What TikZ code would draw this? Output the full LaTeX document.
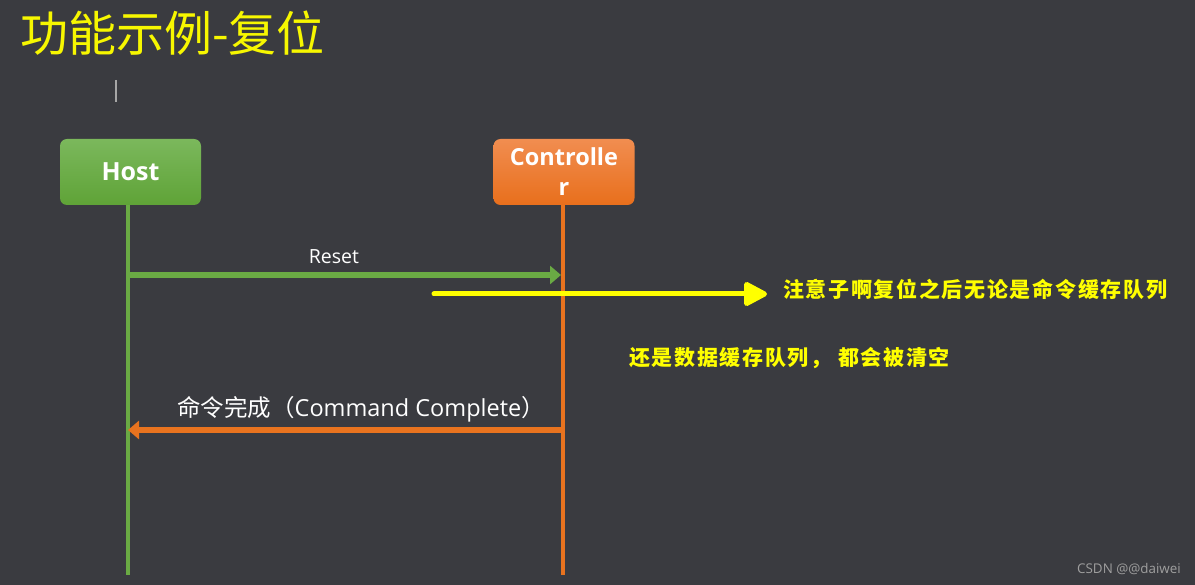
\documentclass[tikz,border=0pt]{standalone}
\usepackage{fontspec}
\setmainfont{Open Sans}
\newfontfamily\cjk{Noto Sans CJK SC}
\usetikzlibrary{arrows.meta,shapes.misc}
\definecolor{bg}{HTML}{3A3B40}
\definecolor{hostgreen}{HTML}{6AAA44}
\definecolor{hosttop}{HTML}{7BB85C}
\definecolor{hostbot}{HTML}{5FA337}
\definecolor{ctrlorange}{HTML}{E8731F}
\definecolor{ctrltop}{HTML}{F18D50}
\definecolor{ctrlbot}{HTML}{E86F1C}
\definecolor{yel}{HTML}{FFFF00}
\definecolor{titleyel}{HTML}{F7F700}
\tikzset{
  px/.style={x=1pt,y=-1pt},
  actor/.style={rounded corners=7pt,minimum width=141pt,minimum height=66pt,inner sep=0pt,align=center,text=white},
  lifeline/.style={line width=4pt},
  msg/.style={line width=6pt,-{Triangle[length=11pt,width=18pt]}},
  lbl/.style={text=white,inner sep=0pt},
  note/.style={text=yel,inner sep=0pt,anchor=west}
}
\begin{document}
\begin{tikzpicture}[px]
\fill[bg] (0,0) rectangle (1195,585);
\useasboundingbox (0,0) rectangle (1195,585);
\node[text=titleyel,anchor=west,inner sep=0pt,font=\cjk\fontsize{48}{52}\selectfont] (title) at (20,33) {功能示例-复位};
\draw[gray!70,line width=1.3pt] (116,80) coordinate (c1) -- (116,102) coordinate (c2);
\node[actor,top color=hosttop,bottom color=hostbot,font=\fontsize{25}{30}\selectfont\bfseries] (host) at (130.5,172) {Host};
\node[actor,top color=ctrltop,bottom color=ctrlbot,font=\fontsize{23.5}{30}\selectfont\bfseries] (ctrl) at (564,172) {Controlle\\r};
\coordinate (hend) at (128,575);
\coordinate (cend) at (563,575);
\draw[lifeline,hostgreen] (host.south -| hend) -- (hend);
\draw[lifeline,ctrlorange] (ctrl.south -| cend) -- (cend);
\coordinate (r1) at (128,275);
\coordinate (r2) at (561,275);
\draw[msg,hostgreen] (r1) -- (r2);
\node[lbl,font=\fontsize{19.5}{22}\selectfont] (reset) at (334,257) {Reset};
\coordinate (y1) at (434,294);
\coordinate (y2) at (767,294);
\draw[yel,line width=5pt,line cap=round,-{Triangle[length=26pt,width=26pt,round]}] (y1) -- (y2);
\node[note,font=\cjk\bfseries\fontsize{21}{24}\selectfont] (n1) at (783,289) {\addfontfeature{LetterSpace=8}注意子啊复位之后无论是命令缓存队列};
\node[note,font=\cjk\bfseries\fontsize{21}{24}\selectfont] (n2) at (629,358) {\addfontfeature{LetterSpace=8}还是数据缓存队列，\ 都会被清空};
\coordinate (a1) at (565,430);
\coordinate (a2) at (128,430);
\draw[msg,ctrlorange] (a1) -- (a2);
\node[lbl,anchor=west,font=\fontsize{23.5}{26}\selectfont] (done) at (177,409) {{\cjk 命令完成（}Command Complete{\cjk ）}};
\node[text=gray!75,anchor=east,inner sep=0pt,font=\fontsize{13.4}{15}\selectfont] (wm) at (1181,569) {CSDN @@daiwei};
\end{tikzpicture}
\end{document}
